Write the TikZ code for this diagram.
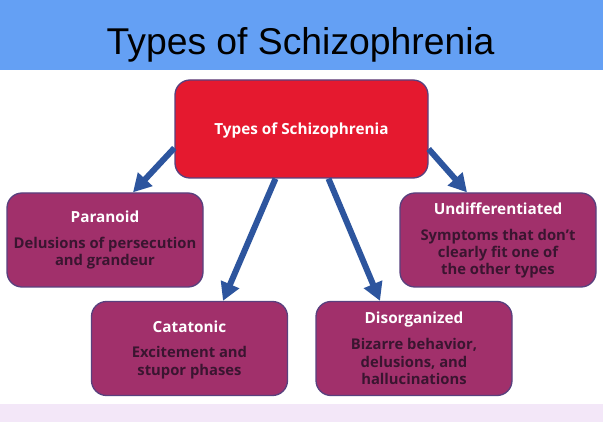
\documentclass[tikz,border=0pt]{standalone}
\usepackage{fontspec}
\setmainfont{Open Sans}
\newfontfamily\titlefont{Liberation Sans}
\usetikzlibrary{arrows.meta}
\definecolor{hdrblue}{HTML}{64A0F4}
\definecolor{boxred}{HTML}{E5192F}
\definecolor{boxpurple}{HTML}{A1306B}
\definecolor{boxborder}{HTML}{59407E}
\definecolor{darktext}{HTML}{3A1530}
\definecolor{arrowblue}{HTML}{2D559E}
\definecolor{footband}{HTML}{F3E7F8}
\tikzset{
  x=1pt, y=-1pt,
  box/.style={draw=boxborder, line width=1.3pt, fill=boxpurple, rounded corners=15pt, inner sep=0pt, minimum width=196pt, minimum height=94pt},
  topbox/.style={box, fill=boxred, minimum width=253pt, minimum height=98pt},
  head/.style={anchor=base, text=white, font=\fontsize{15.3}{18}\selectfont\bfseries, inner sep=0pt},
  body/.style={anchor=base, text=darktext, font=\fontsize{14.8}{18}\selectfont\bfseries, inner sep=0pt},
  arr/.style={draw=arrowblue, line width=6pt, -{Triangle[length=18pt,width=19pt]}}
}
\begin{document}
\begin{tikzpicture}
\useasboundingbox (0,0) rectangle (603,422);
\fill[white] (0,0) rectangle (603,422);
\fill[hdrblue] (0,0) rectangle (603,70);
\fill[footband] (0,404) rectangle (603,422);
\node[anchor=base, inner sep=0pt, font=\titlefont\fontsize{37.3}{40}\selectfont] (title) at (300.5,55) {Types of Schizophrenia};

\node[topbox] (top) at (301.5,129) {};
\node[head] (toplbl) at (301.5,134.5) {Types of Schizophrenia};

\node[box] (par) at (105,240) {};
\node[head] (parh) at (105,222.5) {Paranoid};
\node[body] (parb1) at (105,248.5) {Delusions of persecution};
\node[body] (parb2) at (105,265.5) {and grandeur};

\node[box] (und) at (498,240) {};
\node[head] (undh) at (498,214.5) {Undifferentiated};
\node[body] (undb1) at (498,240.5) {Symptoms that don’t};
\node[body] (undb2) at (498,257.5) {clearly fit one of};
\node[body] (undb3) at (498,274.5) {the other types};

\node[box] (cat) at (189.5,348.5) {};
\node[head] (cath) at (189.5,332.5) {Catatonic};
\node[body] (catb1) at (189.5,357.5) {Excitement and};
\node[body] (catb2) at (189.5,375.5) {stupor phases};

\node[box] (dis) at (414,348.5) {};
\node[head] (dish) at (414,323.5) {Disorganized};
\node[body] (disb1) at (414,349.5) {Bizarre behavior,};
\node[body] (disb2) at (414,367.5) {delusions, and};
\node[body] (disb3) at (414,384.5) {hallucinations};

\draw[arr] ([yshift=-19pt]top.west) -- ([xshift=28pt]par.north);
\draw[arr] ([xshift=-26pt]top.south) -- ([xshift=33.5pt]cat.north);
\draw[arr] ([xshift=27pt]top.south) -- ([xshift=-34pt]dis.north);
\draw[arr] ([yshift=-20pt]top.east) -- ([xshift=-31pt]und.north);
\end{tikzpicture}
\end{document}
